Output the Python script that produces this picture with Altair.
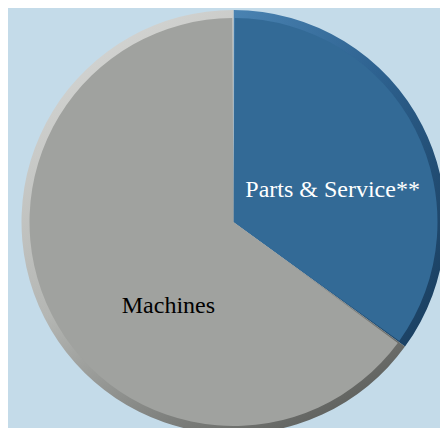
import altair as alt
import pandas as pd

categories = ["Parts & Service**", "Machines"]
shares = [35, 65]
order = [1, 2]
main_colors = ["#336a96", "#a0a29f"]
label_colors = ["#ffffff", "#000000"]

df = pd.DataFrame({"category": categories, "value": shares, "ord": order})

CX, CY = 225.5, 214
R = 212

theta = alt.Theta("value:Q", stack=True)
ordenc = alt.Order("ord:Q")
base = alt.Chart(df).encode(theta=theta, order=ordenc,
                             x=alt.value(CX), y=alt.value(CY))

grad_gray = {"gradient": "linear", "x1": 0.2, "y1": 0.0, "x2": 0.75, "y2": 1.0,
             "stops": [{"offset": 0, "color": "#d6d7d5"},
                       {"offset": 0.5, "color": "#b4b6b3"},
                       {"offset": 1, "color": "#5f615e"}]}
grad_blue = {"gradient": "linear", "x1": 0.0, "y1": 0.0, "x2": 1.0, "y2": 0.8,
             "stops": [{"offset": 0, "color": "#4a83b2"},
                       {"offset": 0.5, "color": "#2e6290"},
                       {"offset": 1, "color": "#1b4163"}]}

rim = base.mark_arc(radius=R).encode(
    color=alt.condition(alt.datum.category == categories[0], alt.value(grad_blue), alt.value(grad_gray))
)
inner = base.mark_arc(radius=R - 8, padAngle=0.012).encode(
    color=alt.Color("category:N", scale=alt.Scale(domain=categories, range=main_colors), legend=None)
)

def label(cat, color, dx, dy):
    return base.mark_text(radius=100, dx=dx, dy=dy, font="Liberation Serif",
                          fontSize=24, baseline="middle", align="center", color=color).encode(
        text=alt.condition(alt.datum.category == cat, alt.Text("category:N"), alt.value(""))
    )

lab1 = label(categories[0], label_colors[0], 10, 13)
lab2 = label(categories[1], label_colors[1], 24, 39)

chart = alt.layer(rim, inner, lab1, lab2).properties(
    width=432, height=420,
    autosize="none",
    padding=0,
    background="#c4dbe9",
).configure_view(stroke=None)

chart.save("out.html", embed_options={"renderer": "svg", "actions": False})
